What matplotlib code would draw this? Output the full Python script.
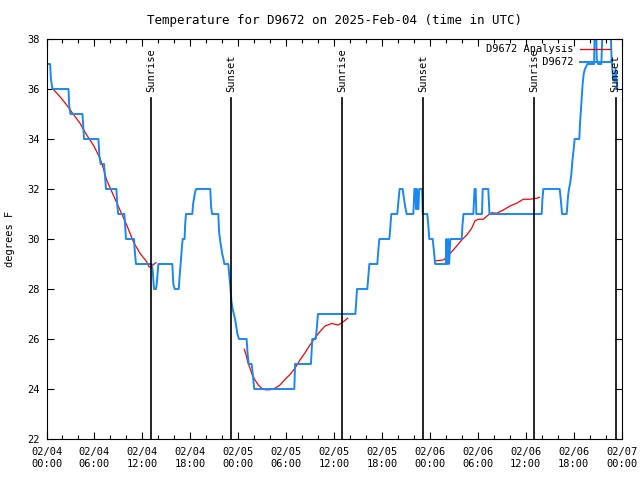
import matplotlib
matplotlib.use("Agg")
import matplotlib.pyplot as plt
import matplotlib.dates as mdates
import numpy as np
import pandas as pd

# Station and time window
station = "D9672"
start = pd.Timestamp("2025-02-04 00:00")
span_hours = 72

# Observations (hours since start, degrees F)
obs_hours = [0.20, 0.45, 0.55, 0.75, 2.75, 2.85, 3.00, 4.50, 4.70, 6.50, 6.62, 6.78,
             7.20, 7.45, 8.75, 8.85, 8.97, 9.75, 9.95, 10.95, 11.08, 11.20,
             13.17, 13.30, 13.46, 13.70, 13.80, 14.00, 15.75, 15.87, 16.05,
             16.55, 16.71, 16.84, 16.95, 17.05, 17.28, 17.36, 17.46,
             18.25, 18.35, 18.50, 18.62, 18.75, 20.50, 20.60, 20.72,
             21.50, 21.60, 21.75, 21.90, 22.00, 22.15, 22.26,
             22.76, 22.86, 23.00, 23.15, 23.30, 23.45, 23.60, 23.75, 23.90, 24.10,
             25.05, 25.15, 25.30, 25.68, 25.85, 26.00, 31.02, 31.12,
             33.10, 33.27, 33.69, 33.80, 33.90, 33.98, 38.66, 38.75, 38.87,
             40.16, 40.26, 40.41, 41.41, 41.52, 41.66, 42.91, 43.02, 43.16,
             43.91, 44.02, 44.20, 44.58, 44.75, 44.90, 45.08,
             45.92, 46.05, 46.20, 46.25, 46.35, 46.42, 46.55, 46.65, 47.02, 47.10,
             47.66, 47.78, 47.92, 48.34, 48.47, 48.65,
             49.98, 50.05, 50.15, 50.28, 50.40, 50.55, 51.97, 52.08, 52.20,
             53.43, 53.58, 53.72, 53.80, 54.51, 54.60, 55.30, 55.45,
             61.98, 62.08, 62.19, 64.24, 64.40, 64.53,
             65.11, 65.28, 65.40, 65.53, 65.70, 65.82, 65.99, 66.11, 66.69,
             66.78, 66.90, 66.99, 67.11, 67.24, 67.40, 67.70,
             68.55, 68.62, 68.80, 68.88, 69.05, 69.45, 69.62, 70.60,
             70.72, 70.90, 71.10, 71.25, 71.45]
obs_temp = [37, 37, 36.4, 36, 36, 35.3, 35, 35, 34, 34, 33.3, 33,
            33, 32, 32, 31.4, 31, 31, 30, 30, 29.4, 29,
            29, 28.7, 28, 28, 28.2, 29, 29, 28.2, 28,
            28, 28.7, 29.2, 29.7, 30, 30, 30.6, 31,
            31, 31.4, 31.7, 31.9, 32, 32, 31.3, 31,
            31, 30.3, 29.9, 29.6, 29.4, 29.2, 29,
            29, 28.6, 28.15, 27.5, 27.2, 27.0, 26.8, 26.5, 26.2, 26,
            26, 25.5, 25, 25, 24.5, 24, 24, 25,
            25, 26, 26, 26.3, 26.7, 27, 27, 27.4, 28,
            28, 28.4, 29, 29, 29.5, 30, 30, 30.4, 31,
            31, 31.4, 32, 32, 31.6, 31.3, 31,
            31, 32, 32, 31.2, 32, 31.2, 31.2, 32, 32, 31,
            31, 30.6, 30, 30, 29.6, 29,
            29, 30, 29, 30, 29, 30, 30, 30.6, 31,
            31, 32, 32, 31, 31, 32, 32, 31,
            31, 31.6, 32, 32, 31.5, 31,
            31, 31.7, 32, 32.2, 32.6, 33.1, 33.6, 34, 34,
            34.6, 35.2, 35.7, 36.2, 36.6, 36.8, 37,
            37, 38.6, 38.6, 37.2, 37, 37, 38.6, 38.6,
            37.3, 36.5, 36.3, 36.8, 36.0]

# Analysis segments
ana1_hours = [0.73, 1.69, 2.53, 3.36, 4.19, 5.03, 5.86, 6.70, 7.11, 7.53, 8.36, 9.20,
              10.04, 10.87, 11.70, 12.54, 12.85, 13.10, 13.40, 13.70]
ana1_temp = [36.03, 35.69, 35.36, 34.99, 34.63, 34.16, 33.76, 33.23, 32.83, 32.36, 31.76, 31.16,
             30.56, 29.89, 29.43, 29.09, 28.88, 28.90, 28.98, 29.05]
ana2_hours = [24.76, 24.93, 25.18, 25.47, 25.76, 26.10, 26.51, 26.93, 27.35, 27.98, 28.60,
              29.22, 29.85, 30.48, 31.10, 31.73, 32.36, 32.98, 33.61, 34.24, 34.86,
              35.70, 36.53, 37.15, 37.70]
ana2_temp = [25.59, 25.43, 25.09, 24.83, 24.56, 24.36, 24.16, 24.03, 23.97, 23.97, 24.03,
             24.16, 24.38, 24.58, 24.83, 25.16, 25.45, 25.76, 26.05, 26.30, 26.52,
             26.62, 26.56, 26.69, 26.83]
ana3_hours = [48.75, 49.67, 50.10, 50.72, 51.35, 51.97, 52.60, 53.22, 53.64, 54.05, 54.68,
              55.30, 55.73, 56.35, 57.18, 58.02, 58.85, 59.68, 60.52, 61.36, 61.70]
ana3_temp = [29.13, 29.16, 29.27, 29.49, 29.72, 29.96, 30.16, 30.43, 30.73, 30.79, 30.79,
             30.96, 31.05, 31.03, 31.16, 31.32, 31.43, 31.59, 31.59, 31.63, 31.67]

# Sunrise / sunset markers
sun_hours = [13.12, 23.13, 37.03, 47.17, 61.02, 71.25]
sun_labels = ["Sunrise", "Sunset", "Sunrise", "Sunset", "Sunrise", "Sunset"]

y_ticks = list(range(22, 39, 2))


def to_time(hours):
    return start + pd.to_timedelta(np.asarray(hours), unit="h")


plt.rcParams["font.family"] = ["DejaVu Sans Mono"]
plt.rcParams["font.size"] = 7.5

fig = plt.figure(figsize=(6.4, 4.8), dpi=100)
ax = fig.add_axes([46.5 / 640, 1 - 439 / 480, 575.2 / 640, 400 / 480])

red = "#ff0000"
blue = "#1a88f0"

ax.plot(to_time(ana1_hours), ana1_temp, color=red, lw=0.9, label=f"{station} Analysis")
ax.plot(to_time(ana2_hours), ana2_temp, color=red, lw=0.9)
ax.plot(to_time(ana3_hours), ana3_temp, color=red, lw=0.9)
ax.plot(to_time(obs_hours), obs_temp, color=blue, lw=1.4, label=" " * 9 + station)

for h, lab in zip(sun_hours, sun_labels):
    t = to_time([h])[0]
    ax.axvline(t, ymin=0, ymax=0.8525, color="black", lw=1.2)
    ax.text(t, 0.8675, lab, transform=ax.get_xaxis_transform(),
            rotation=90, ha="center", va="bottom")

ax.set_xlim(start, start + pd.Timedelta(hours=span_hours))
ax.set_ylim(22, 38)
ax.set_yticks(y_ticks)

ax.xaxis.set_major_locator(mdates.HourLocator(byhour=[0, 6, 12, 18]))
ax.xaxis.set_minor_locator(mdates.HourLocator(interval=2))
ax.xaxis.set_major_formatter(mdates.DateFormatter("%m/%d\n%H:%M"))

ax.tick_params(which="both", direction="in", top=True, right=True, width=0.8)
ax.tick_params(which="major", length=5)
ax.tick_params(which="minor", length=3)
ax.tick_params(axis="x", pad=6)
ax.tick_params(axis="y", pad=5)
for s in ax.spines.values():
    s.set_linewidth(0.8)

ax.set_title(f"Temperature for {station} on 2025-Feb-04 (time in UTC)", pad=11)
ax.set_ylabel("degrees F")
ax.yaxis.set_label_coords(-0.0548, 0.5)

leg = ax.legend(loc="upper right", bbox_to_anchor=(0.9797, 0.987), frameon=False,
                markerfirst=False, borderpad=0, borderaxespad=0, handlelength=2.9,
                handletextpad=0.6, labelspacing=0.3)

fig.savefig("out.png", dpi=100)
